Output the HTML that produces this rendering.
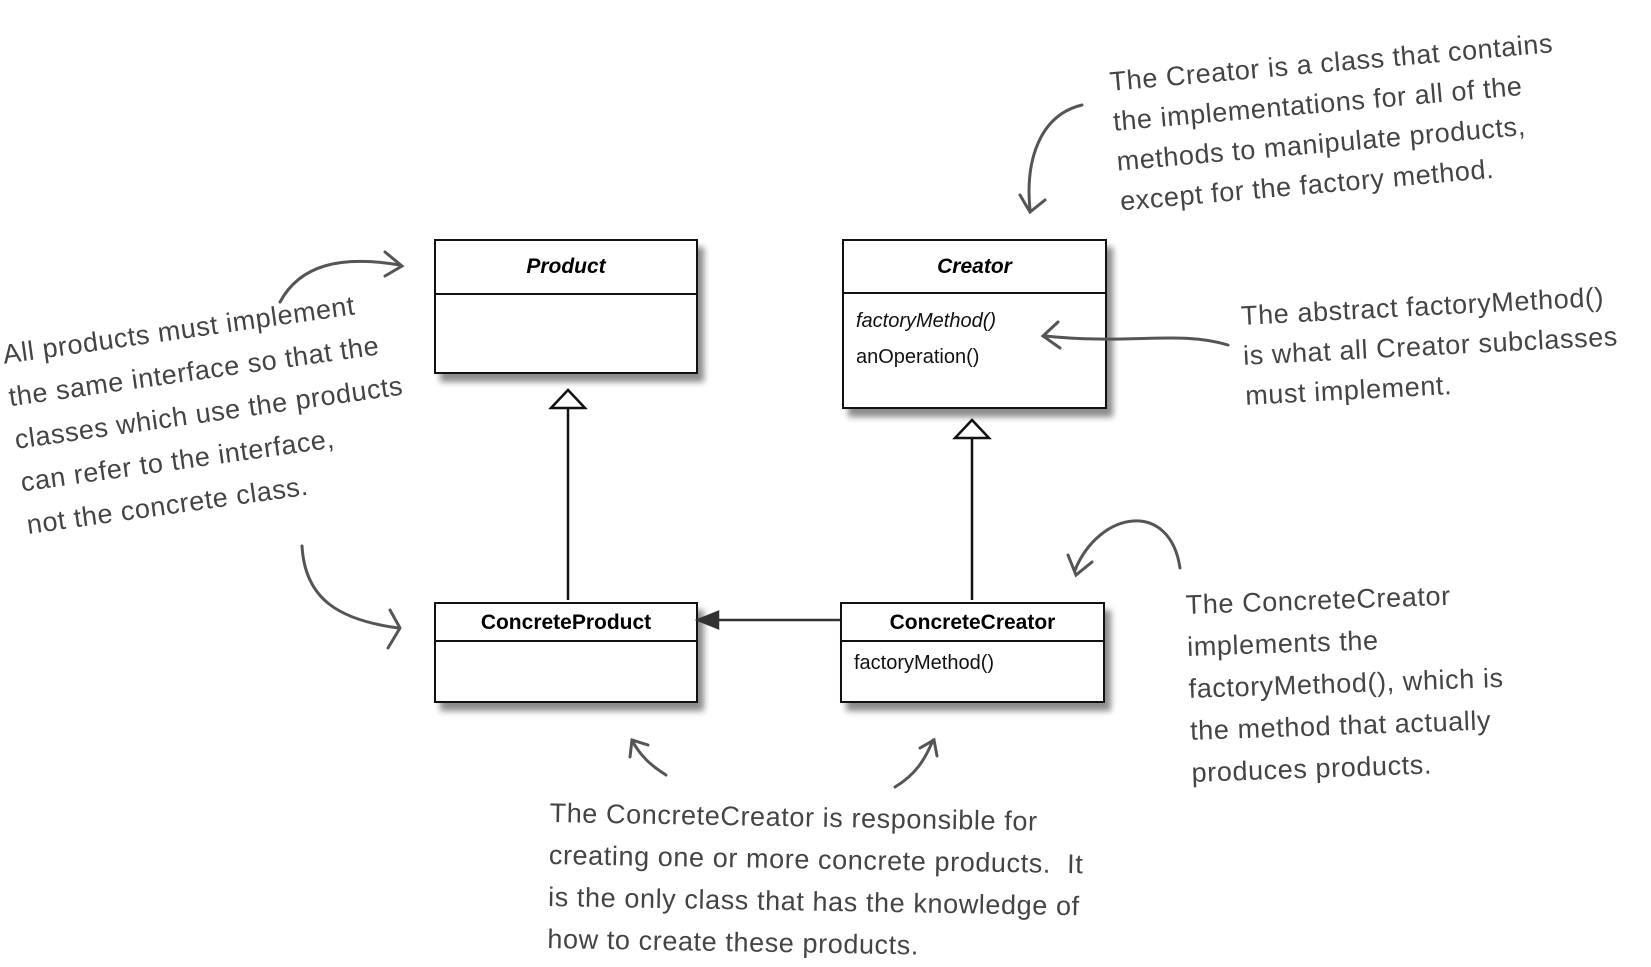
<!DOCTYPE html>
<html><head><meta charset="utf-8"><style>
html,body{margin:0;padding:0;background:#fff;}
#c{position:relative;width:1651px;height:967px;overflow:hidden;font-family:"Liberation Sans",sans-serif;}
.box{position:absolute;border:2px solid #111;background:#fff;box-shadow:6px 8px 6px rgba(0,0,0,0.45);box-sizing:border-box;}
.hd{border-bottom:2px solid #111;font-weight:bold;font-size:21px;text-align:center;box-sizing:border-box;}
.m{font-size:20px;padding-left:12px;color:#111;}
.note{position:absolute;color:#444;font-size:27px;line-height:40px;white-space:nowrap;transform-origin:0 0;font-family:"Liberation Sans",sans-serif;letter-spacing:0.6px;}
</style></head><body><div id="c">
<div class="box" style="left:434px;top:239px;width:264px;height:135px"><div class="hd" style="height:54px;line-height:52px;font-style:italic">Product</div></div>
<div class="box" style="left:842px;top:239px;width:265px;height:170px"><div class="hd" style="height:53px;line-height:51px;font-style:italic">Creator</div>
 <div class="m" style="font-style:italic;margin-top:16px">factoryMethod()</div><div class="m" style="margin-top:13px">anOperation()</div></div>
<div class="box" style="left:434px;top:602px;width:264px;height:101px"><div class="hd" style="height:38px;line-height:38px">ConcreteProduct</div></div>
<div class="box" style="left:840px;top:602px;width:265px;height:101px"><div class="hd" style="height:38px;line-height:38px">ConcreteCreator</div>
 <div class="m" style="margin-top:10px">factoryMethod()</div></div>
<svg width="1651" height="967" style="position:absolute;left:0;top:0">
 <g stroke="#111" stroke-width="2.5" fill="none">
  <line x1="568" y1="408" x2="568" y2="600"/>
  <polygon points="568,390 551,408 585,408" fill="#fff"/>
  <line x1="972" y1="438" x2="972" y2="600"/>
  <polygon points="972,420 955,438 989,438" fill="#fff"/>
  <line x1="840" y1="620" x2="715" y2="620" stroke="#333"/>
  <polygon points="698,620 718,612 718,628" fill="#333" stroke="#333"/>
 </g>
 <g stroke="#555" stroke-width="3" fill="none" stroke-linecap="round">
  <path d="M1082,105 C1040,115 1025,160 1030,210"/><path d="M1020,195 L1030,212 L1045,200"/>
  <path d="M1228,345 C1180,330 1130,345 1045,336"/><path d="M1058,322 L1043,336 L1060,348"/>
  <path d="M280,302 C300,265 340,255 400,265"/><path d="M385,252 L402,266 L385,276"/>
  <path d="M302,546 C305,600 340,620 398,628"/><path d="M390,610 L400,628 L388,648"/>
  <path d="M1180,568 C1170,500 1100,510 1075,570"/><path d="M1068,555 L1076,575 L1092,562"/>
  <path d="M666,775 C650,765 640,755 633,742"/><path d="M630,757 L632,740 L648,745"/>
  <path d="M895,787 C915,775 925,760 933,740"/><path d="M920,748 L934,740 L937,756"/>
 </g>
</svg>

<div class="note" style="left:1108px;top:62px;transform:rotate(-5deg)">The Creator is a class that contains<br>the implementations for all of the<br>methods to manipulate products,<br>except for the factory method.</div>
<div class="note" style="left:1240px;top:296px;transform:rotate(-3deg)">The abstract factoryMethod()<br>is what all Creator subclasses<br>must implement.</div>
<div class="note" style="left:0px;top:334px;transform:rotate(-8deg);line-height:43px">All products must implement<br>the same interface so that the<br>classes which use the products<br>can refer to the interface,<br>not the concrete class.</div>
<div class="note" style="left:1185px;top:584px;transform:rotate(-2deg);line-height:42px">The ConcreteCreator<br>implements the<br>factoryMethod(), which is<br>the method that actually<br>produces products.</div>
<div class="note" style="left:550px;top:792px;transform:rotate(1deg);line-height:42px">The ConcreteCreator is responsible for<br>creating one or more concrete products.&nbsp; It<br>is the only class that has the knowledge of<br>how to create these products.</div>
</div></body></html>
